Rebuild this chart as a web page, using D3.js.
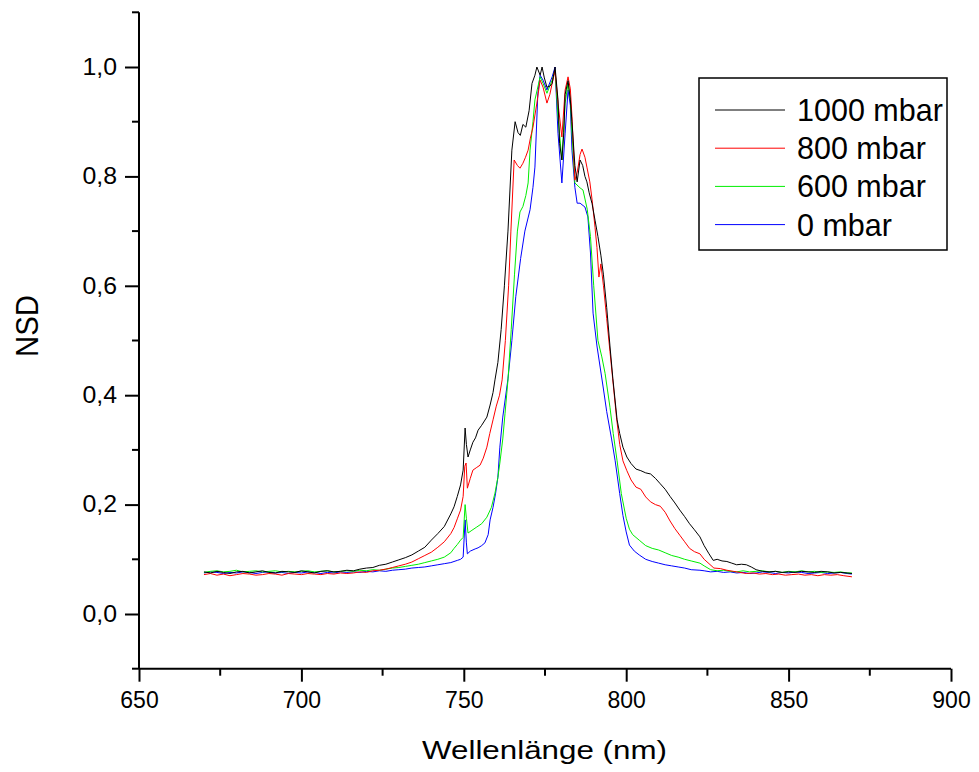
<!DOCTYPE html>
<html>
<head>
<meta charset="utf-8">
<script src="https://cdn.jsdelivr.net/npm/d3@7"></script>
<style>
  html, body { margin: 0; padding: 0; background: #fff; }
  svg { display: block; font-family: "Liberation Sans", Arial, sans-serif; }
</style>
</head>
<body>
<svg id="chart" width="979" height="772"></svg>
<script>
// Normalised spectral density (NSD) vs wavelength for four gas pressures.
// Each series: [wavelength in nm, NSD].
const series1000 = [
  [670,0.077],[672,0.075],[674,0.078],[676,0.076],[678,0.074],[680,0.077],[682,0.078],[684,0.075],[686,0.077],[688,0.079],
  [690,0.076],[692,0.075],[694,0.078],[696,0.077],[698,0.076],[700,0.079],[702,0.077],[704,0.075],[706,0.078],[708,0.079],
  [710,0.077],[712,0.078],[714,0.080],[716,0.079],[718,0.082],[720,0.084],[722,0.085],[724,0.089],[726,0.091],[728,0.095],
  [730,0.099],[732,0.103],[734,0.108],[736,0.115],[738,0.122],[740,0.135],[742,0.147],[744,0.160],[746,0.183],[747,0.196],
  [748,0.215],[749,0.236],[749.8,0.263],[750.4,0.34],[750.8,0.31],[751.3,0.287],[752,0.30],[752.8,0.314],[753.6,0.322],
  [754.4,0.336],[755.5,0.345],[757.1,0.36],[758.1,0.382],[759,0.405],[759.6,0.428],[760.5,0.46],[761.5,0.52],[762.5,0.60],
  [763.6,0.70],[764.8,0.848],[765.8,0.90],[766.7,0.88],[767.4,0.875],[768.2,0.895],[769.1,0.89],[770.1,0.92],[771.0,0.97],
  [771.9,0.985],[772.5,1.0],[773.5,0.985],[774.1,1.0],[774.8,0.98],[775.6,0.963],[776.5,0.965],[777.2,0.97],[778.1,1.0],
  [779.0,0.94],[779.5,0.86],[780.2,0.83],[780.8,0.88],[781.2,0.95],[782.1,0.975],[782.8,0.94],[783.3,0.90],[784.2,0.82],
  [784.9,0.79],[785.8,0.83],[786.6,0.82],[787.3,0.80],[787.9,0.79],[788.6,0.77],[789.5,0.75],[790.4,0.72],[791.3,0.69],
  [792.2,0.656],[793,0.62],[794,0.56],[795,0.49],[795.9,0.43],[797.2,0.355],[798,0.33],[799,0.305],[800.2,0.287],
  [801.5,0.275],[803,0.265],[804.5,0.262],[806,0.258],[807.5,0.256],[809,0.248],[810.5,0.238],[812,0.228],[813.5,0.215],
  [815,0.203],[816.5,0.19],[818,0.178],[819.5,0.165],[821,0.154],[822.7,0.141],[824,0.125],[825.5,0.11],[826.8,0.098],
  [828,0.10],[829.5,0.097],[831,0.096],[832.5,0.093],[834,0.09],[835.5,0.091],[837,0.09],[838.5,0.086],[840,0.081],
  [842,0.078],[844,0.077],[846,0.078],[848,0.076],[850,0.077],[852,0.076],[854,0.078],[856,0.077],[858,0.076],[860,0.078],
  [862,0.077],[864,0.075],[866,0.076],[868,0.075],[869.5,0.074]
];

const series800 = [
  [670,0.072],[672,0.074],[674,0.071],[676,0.073],[678,0.070],[680,0.072],[682,0.074],[684,0.073],[686,0.071],[688,0.072],
  [690,0.074],[692,0.073],[694,0.071],[696,0.074],[698,0.073],[700,0.072],[702,0.074],[704,0.073],[706,0.072],[708,0.074],
  [710,0.073],[712,0.075],[714,0.074],[716,0.075],[718,0.077],[720,0.076],[722,0.079],[724,0.080],[726,0.082],[728,0.085],
  [730,0.088],[732,0.091],[734,0.095],[736,0.101],[738,0.107],[740,0.113],[742,0.122],[744,0.132],[746,0.147],[747,0.158],
  [748,0.174],[749,0.19],[749.8,0.215],[750.3,0.27],[750.7,0.276],[751.1,0.23],[752,0.248],[752.8,0.263],[754,0.268],
  [755,0.272],[756,0.285],[757.1,0.305],[758,0.33],[759,0.355],[760,0.38],[761,0.40],[761.8,0.428],[762.8,0.50],
  [763.8,0.60],[764.5,0.70],[765.5,0.83],[766.5,0.82],[767.3,0.815],[768.2,0.824],[769,0.835],[769.8,0.848],[770.5,0.87],
  [771.3,0.89],[772.5,0.934],[773.5,0.976],[774.4,0.963],[775.6,0.934],[776.5,0.95],[777.2,0.97],[778.1,0.994],[779,0.934],
  [780.2,0.872],[781.2,0.958],[782.1,0.982],[782.8,0.96],[783.3,0.91],[784.2,0.793],[785,0.81],[785.8,0.84],[786.4,0.85],
  [787.3,0.835],[787.9,0.817],[788.8,0.79],[789.5,0.757],[790.4,0.707],[791,0.67],[791.6,0.616],[792.2,0.64],[793,0.60],
  [794,0.54],[795,0.48],[796,0.42],[797,0.36],[798,0.31],[799,0.28],[800.2,0.262],[801.5,0.245],[803,0.232],[804.5,0.228],
  [806,0.214],[807.5,0.205],[809,0.20],[810.5,0.197],[812,0.186],[813.5,0.17],[815,0.156],[816.5,0.144],[818,0.132],
  [819.5,0.12],[821,0.114],[822.7,0.11],[824,0.10],[825.5,0.092],[827,0.084],[829,0.083],[831,0.080],[833,0.078],
  [835,0.076],[837,0.074],[839,0.075],[841,0.073],[843,0.074],[845,0.072],[847,0.073],[849,0.071],[851,0.072],[853,0.073],
  [855,0.071],[857,0.072],[859,0.070],[861,0.072],[863,0.071],[865,0.072],[867,0.070],[869.5,0.068]
];

const series600 = [
  [670,0.076],[672,0.078],[674,0.079],[676,0.077],[678,0.078],[680,0.080],[682,0.077],[684,0.078],[686,0.079],[688,0.077],
  [690,0.078],[692,0.079],[694,0.077],[696,0.078],[698,0.077],[700,0.078],[702,0.079],[704,0.077],[706,0.078],[708,0.079],
  [710,0.077],[712,0.078],[714,0.079],[716,0.078],[718,0.080],[720,0.079],[722,0.081],[724,0.080],[726,0.082],[728,0.084],
  [730,0.085],[732,0.087],[734,0.089],[736,0.091],[738,0.094],[740,0.097],[742,0.100],[744,0.104],[746,0.112],[747,0.12],
  [748,0.127],[749,0.135],[749.8,0.14],[750.4,0.20],[750.8,0.175],[751.3,0.148],[752.5,0.153],[754,0.159],[755.5,0.165],
  [757.1,0.177],[758.5,0.195],[759.6,0.221],[760.5,0.25],[761.1,0.276],[762,0.32],[762.7,0.367],[763.6,0.428],[764.6,0.52],
  [765.6,0.62],[766.5,0.70],[767.3,0.735],[768.2,0.745],[769.1,0.765],[769.8,0.788],[770.4,0.848],[771.3,0.90],[771.9,0.94],
  [773.5,0.982],[774.4,0.97],[775.6,0.952],[777.2,0.976],[778.1,0.994],[779,0.909],[780.2,0.83],[781.2,0.934],[782.1,0.97],
  [782.8,0.94],[783.3,0.879],[784.2,0.788],[785.8,0.779],[786.7,0.775],[788,0.74],[789,0.69],[790,0.60],[791.3,0.50],
  [792.5,0.47],[793.5,0.44],[795,0.378],[796,0.33],[797.2,0.28],[798.5,0.22],[800,0.175],[801,0.155],[802,0.145],
  [804,0.135],[806,0.125],[808,0.12],[810,0.117],[812,0.112],[814,0.107],[816,0.104],[818,0.10],[820,0.097],[822.7,0.093],
  [824,0.088],[826,0.081],[828,0.079],[830,0.080],[832,0.078],[834,0.077],[836,0.079],[838,0.077],[840,0.078],[842,0.079],
  [844,0.077],[846,0.078],[848,0.076],[850,0.078],[852,0.077],[854,0.079],[856,0.077],[858,0.078],[860,0.076],[862,0.077],
  [864,0.076],[866,0.077],[868,0.075],[869.5,0.075]
];

const series0 = [
  [670,0.075],[672,0.077],[674,0.076],[676,0.074],[678,0.076],[680,0.075],[682,0.077],[684,0.076],[686,0.074],[688,0.076],
  [690,0.077],[692,0.075],[694,0.076],[696,0.074],[698,0.076],[700,0.075],[702,0.077],[704,0.076],[706,0.074],[708,0.076],
  [710,0.075],[712,0.077],[714,0.076],[716,0.077],[718,0.076],[720,0.078],[722,0.077],[724,0.079],[726,0.078],[728,0.080],
  [730,0.081],[732,0.082],[734,0.084],[736,0.085],[738,0.086],[740,0.088],[742,0.090],[744,0.092],[746,0.094],[748,0.098],
  [749,0.10],[749.8,0.104],[750.4,0.172],[750.8,0.13],[751.1,0.11],[752,0.115],[753.5,0.119],[754.4,0.121],[755.5,0.125],
  [756.5,0.13],[757.5,0.145],[758.1,0.172],[759,0.195],[759.8,0.221],[760.5,0.25],[761.1,0.305],[762,0.36],[763.6,0.43],
  [764.8,0.50],[766,0.58],[767.5,0.65],[768.8,0.70],[770.4,0.739],[771.3,0.78],[771.9,0.817],[772.8,0.952],[773.5,0.985],
  [774.4,0.976],[775.6,0.958],[777.2,0.982],[778.1,1.0],[779,0.879],[780.2,0.788],[781.2,0.879],[782.1,0.958],[782.8,0.93],
  [783.3,0.848],[784.2,0.78],[784.9,0.751],[785.8,0.751],[787.3,0.744],[788.2,0.726],[789,0.66],[789.8,0.55],[791,0.49],
  [792.9,0.415],[794,0.37],[795.5,0.32],[796.6,0.28],[798,0.22],[799,0.18],[800,0.15],[801,0.126],[802.5,0.115],
  [804,0.108],[806,0.10],[808,0.096],[810,0.093],[812,0.09],[814,0.088],[816,0.086],[818,0.084],[820,0.081],[822.7,0.08],
  [824,0.079],[826,0.077],[828,0.078],[830,0.076],[832,0.077],[834,0.075],[836,0.076],[838,0.074],[840,0.075],[842,0.077],
  [844,0.076],[846,0.074],[848,0.076],[850,0.075],[852,0.077],[854,0.076],[856,0.074],[858,0.075],[860,0.076],[862,0.074],
  [864,0.075],[866,0.076],[868,0.074],[869.5,0.073]
];

const seriesLabels = ["1000 mbar", "800 mbar", "600 mbar", "0 mbar"];
const seriesColors = ["#000000", "#ff0000", "#00ee00", "#0000ff"];
const seriesData = [series1000, series800, series600, series0];

const xMajorTicks = [650, 700, 750, 800, 850, 900];
const yMajorTicks = [0.0, 0.2, 0.4, 0.6, 0.8, 1.0];
const xTitle = "Wellenlänge (nm)";
const yTitle = "NSD";

const svg = d3.select("#chart");

const x = d3.scaleLinear().domain([650, 900]).range([139, 951]);
const y = d3.scaleLinear().domain([-0.1, 1.1]).range([668.7, 12.3]);

const fmt = v => d3.format(".1f")(v).replace(".", ",");

// Curves (drawn first so the axes sit on top)
const line = d3.line().x(d => x(d[0])).y(d => y(d[1]));
const curves = svg.append("g");
// draw back-to-front: 0 mbar at the bottom, 1000 mbar on top
[3, 2, 1, 0].forEach(i => {
  curves.append("path")
    .datum(seriesData[i])
    .attr("fill", "none")
    .attr("stroke", seriesColors[i])
    .attr("stroke-width", 1)
    .attr("stroke-linejoin", "round")
    .attr("d", line);
});

// X axis: major ticks labelled, minor ticks halfway between
const xAxis = d3.axisBottom(x).tickValues(xMajorTicks).tickSize(13).tickSizeOuter(0).tickPadding(10)
  .tickFormat(d3.format("d"));
const gx = svg.append("g").attr("transform", `translate(0,${y(-0.1)})`).call(xAxis);
const xMinor = d3.range(675, 900, 50);
gx.selectAll(".minor").data(xMinor).enter().append("line")
  .attr("class", "minor")
  .attr("x1", d => x(d)).attr("x2", d => x(d))
  .attr("y1", 0).attr("y2", 7)
  .attr("stroke", "#000").attr("stroke-width", 2);

// Y axis
const yAxis = d3.axisLeft(y).tickValues(yMajorTicks).tickSize(14).tickSizeOuter(0).tickPadding(8)
  .tickFormat(fmt);
const gy = svg.append("g").attr("transform", `translate(${x(650)},0)`).call(yAxis);
const yMinor = [-0.1, 0.1, 0.3, 0.5, 0.7, 0.9, 1.1];
gy.selectAll(".minor").data(yMinor).enter().append("line")
  .attr("class", "minor")
  .attr("x1", 0).attr("x2", -7)
  .attr("y1", d => y(d)).attr("y2", d => y(d))
  .attr("stroke", "#000").attr("stroke-width", 2);

[gx, gy].forEach(g => {
  g.select(".domain").attr("stroke", "#000").attr("stroke-width", 2);
  g.selectAll(".tick line").attr("stroke", "#000").attr("stroke-width", 2);
  g.selectAll(".tick text")
    .attr("fill", "#000")
    .style("font-family", "'Liberation Sans', Arial, sans-serif")
    .style("font-size", "23px");
});
// y tick labels are set slightly wide
gy.selectAll(".tick text").each(function () {
  const t = d3.select(this);
  const tx = +t.attr("x");
  t.attr("x", 0).attr("transform", `translate(${tx},0) scale(1.08,1)`);
});
// axis lines span the full ranges
gy.select(".domain").attr("d", `M0,${y(1.1)}V${y(-0.1)}`);
gx.select(".domain").attr("d", `M${x(650)},0H${x(900)}`);

// Axis titles
svg.append("text")
  .attr("x", (x(650) + x(900)) / 2 - 0.5)
  .attr("y", 759)
  .attr("text-anchor", "middle")
  .attr("textLength", 245)
  .attr("lengthAdjust", "spacingAndGlyphs")
  .style("font-size", "25px")
  .attr("fill", "#000")
  .text(xTitle);

svg.append("text")
  .attr("transform", `translate(38,326) rotate(-90)`)
  .attr("text-anchor", "middle")
  .attr("textLength", 62)
  .attr("lengthAdjust", "spacingAndGlyphs")
  .style("font-size", "32px")
  .attr("fill", "#000")
  .text(yTitle);

// Legend
const legend = svg.append("g").attr("transform", "translate(699,78)");
legend.append("rect")
  .attr("x", 0).attr("y", 0).attr("width", 248).attr("height", 172)
  .attr("fill", "#fff").attr("stroke", "#000").attr("stroke-width", 1.5);
const rows = legend.selectAll(".row").data(seriesLabels).enter().append("g")
  .attr("transform", (d, i) => `translate(0,${32 + i * 38.2})`);
rows.append("line")
  .attr("x1", 16).attr("x2", 86).attr("y1", 0).attr("y2", 0)
  .attr("stroke", (d, i) => seriesColors[i]).attr("stroke-width", 1);
rows.append("text")
  .attr("x", 98).attr("y", 0).attr("dy", "0.36em")
  .style("font-size", "30.5px")
  .attr("fill", "#000")
  .text(d => d);
</script>
</body>
</html>
